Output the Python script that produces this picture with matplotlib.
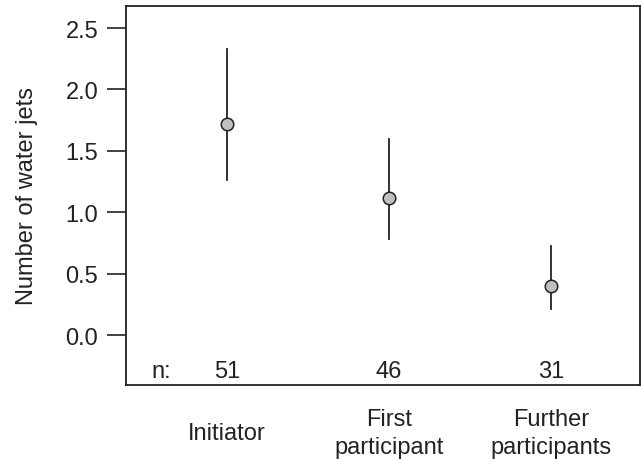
import matplotlib
matplotlib.use("Agg")
import matplotlib.pyplot as plt

plt.rcParams["font.family"] = ["Liberation Sans", "DejaVu Sans"]

categories = ["Initiator", "First\nparticipant", "Further\nparticipants"]
means = [1.72, 1.12, 0.40]
ci_low = [1.26, 0.78, 0.21]
ci_high = [2.33, 1.60, 0.725]
n_obs = [51, 46, 31]

fs = 17
fig = plt.figure(figsize=(6.41, 4.60), dpi=100)
ax = fig.add_axes([126 / 641, 1 - 386 / 460, 514 / 641, 379 / 460])

xs = list(range(1, len(categories) + 1))
for x, lo, hi in zip(xs, ci_low, ci_high):
    ax.plot([x, x], [lo, hi], color="#222222", linewidth=1.3, zorder=2)
ax.plot(xs, means, linestyle="none", marker="o", markersize=9,
        markerfacecolor="#bfbfbf", markeredgecolor="#222222",
        markeredgewidth=1.1, zorder=3)

ax.set_xlim(0.377, 3.55)
ax.set_ylim(-0.407, 2.68)
ax.set_yticks([0.0, 0.5, 1.0, 1.5, 2.0, 2.5])
ax.set_yticklabels(["0.0", "0.5", "1.0", "1.5", "2.0", "2.5"])
ax.tick_params(axis="y", direction="out", length=14, width=1.2,
               labelsize=fs, pad=6, colors="#222222")
ax.set_xticks([])
for s in ax.spines.values():
    s.set_linewidth(1.3)
    s.set_color("#222222")

ax.set_ylabel("Number of water jets", fontsize=fs, color="#222222", labelpad=20)

for x, n in zip(xs, n_obs):
    ax.text(x, -0.297, str(n), ha="center", va="center", fontsize=fs,
            color="#222222")
ax.text(0.595, -0.297, "n:", ha="center", va="center", fontsize=fs,
        color="#222222")

for x, lab in zip(xs, categories):
    ax.text(x, -0.80, lab, ha="center", va="center", fontsize=fs,
            color="#222222", linespacing=1.35,
            transform=ax.transData, clip_on=False)

fig.savefig("out.png", dpi=100)
